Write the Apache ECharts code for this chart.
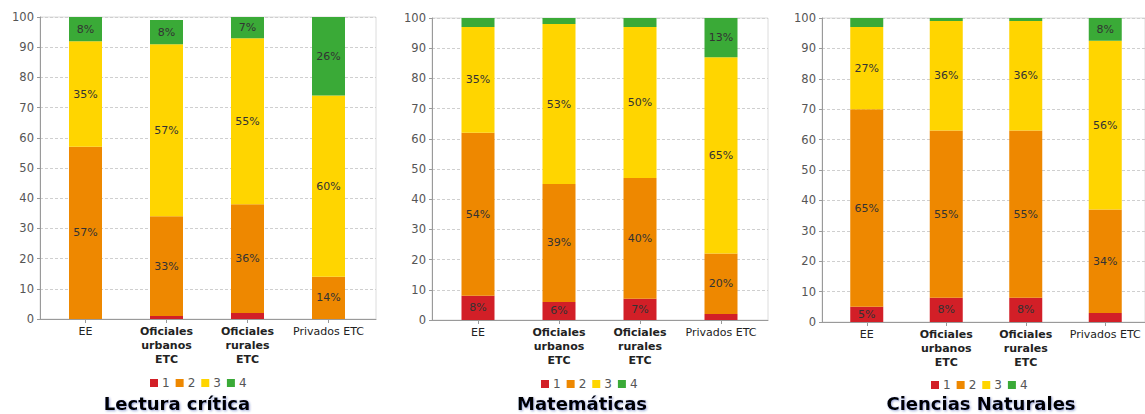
<!DOCTYPE html>
<html>
<head>
<meta charset="utf-8">
<script src="https://cdn.jsdelivr.net/npm/echarts@6/dist/echarts.min.js"></script>
<style>
html,body{margin:0;padding:0;background:#fff;}
#chart{width:1145px;height:414px;}
</style>
</head>
<body>
<div id="chart"></div>
<script>
// ---- data ----
const categories = ['EE', 'Oficiales\nurbanos\nETC', 'Oficiales\nrurales\nETC', 'Privados ETC'];
const levelNames = ['1', '2', '3', '4'];
const yTicks = [0, 10, 20, 30, 40, 50, 60, 70, 80, 90, 100];
const chartTitles = ['Lectura crítica', 'Matemáticas', 'Ciencias Naturales'];

const lectura1 = [0, 1, 2, 0];
const lectura2 = [57, 33, 36, 14];
const lectura3 = [35, 57, 55, 60];
const lectura4 = [8, 8, 7, 26];

const matematicas1 = [8, 6, 7, 2];
const matematicas2 = [54, 39, 40, 20];
const matematicas3 = [35, 53, 50, 65];
const matematicas4 = [3, 2, 3, 13];

const ciencias1 = [5, 8, 8, 3];
const ciencias2 = [65, 55, 55, 34];
const ciencias3 = [27, 36, 36, 55.5];
const ciencias4 = [3, 1, 1, 7.5];

// ---- styles ----
const levelColors = ['#d21f27', '#ee8800', '#ffd500', '#3aaa37'];
const panels = [
  { frame: [40, 17, 336, 302], data: [45, 17, 324, 302], legendX: 192, legendY: 372, titleX: 177, titleY: 403,
    levels: [lectura1, lectura2, lectura3, lectura4] },
  { frame: [432, 18, 336, 302], data: [437.5, 18, 324, 302], legendX: 583, legendY: 373, titleX: 582, titleY: 403,
    levels: [matematicas1, matematicas2, matematicas3, matematicas4] },
  { frame: [822, 18, 336, 304], data: [827, 18, 324, 304], legendX: 973, legendY: 374, titleX: 981, titleY: 403,
    levels: [ciencias1, ciencias2, ciencias3, ciencias4] }
];

const grid = [], xAxis = [], yAxis = [], series = [], legend = [], graphic = [];
panels.forEach((p, i) => {
  const gf = grid.length;
  grid.push({ left: p.frame[0], top: p.frame[1], width: p.frame[2], height: p.frame[3],
    show: true, borderColor: '#dcdcdc', borderWidth: 1, backgroundColor: 'transparent' });
  const gd = grid.length;
  grid.push({ left: p.data[0], top: p.data[1], width: p.data[2], height: p.data[3] });

  // frame axes
  xAxis.push({ gridIndex: gf, type: 'value', min: 0, max: 1,
    axisLine: { show: true, lineStyle: { color: '#9a9a9a' } },
    axisTick: { show: false }, axisLabel: { show: false }, splitLine: { show: false } });
  yAxis.push({ gridIndex: gf, type: 'value', min: yTicks[0], max: yTicks[yTicks.length - 1], interval: 10,
    axisLine: { show: true, lineStyle: { color: '#9a9a9a' } },
    axisTick: { show: true, length: 3, lineStyle: { color: '#9a9a9a' } },
    axisLabel: { color: '#555', fontSize: 11.5, fontFamily: 'DejaVu Sans', margin: 6 },
    splitLine: { show: true, lineStyle: { color: '#cfcfcf', type: [3, 2] } } });

  // data axes
  const xd = xAxis.length;
  xAxis.push({ gridIndex: gd, type: 'category', data: categories,
    axisLine: { show: false },
    axisTick: { show: true, alignWithLabel: true, length: 4, lineStyle: { color: '#9a9a9a' } },
    axisLabel: { interval: 0, margin: 5, color: '#222', fontSize: 11, fontFamily: 'DejaVu Sans', lineHeight: 14,
      formatter: v => v.indexOf('\n') >= 0 ? v.split('\n').map(s => '{b|' + s + '}').join('\n') : '{n|' + v + '}',
      rich: { b: { fontWeight: 'bold', fontSize: 11, fontFamily: 'DejaVu Sans', color: '#222', lineHeight: 14 },
              n: { fontSize: 11, fontFamily: 'DejaVu Sans', color: '#222', lineHeight: 14 } } } });
  const yd = yAxis.length;
  yAxis.push({ gridIndex: gd, type: 'value', min: 0, max: 100, show: false });

  p.levels.forEach((vals, k) => {
    series.push({
      name: levelNames[k], type: 'bar', stack: 'panel' + i, xAxisIndex: xd, yAxisIndex: yd,
      barWidth: 33, data: vals,
      itemStyle: { color: levelColors[k] },
      label: { show: true, position: 'inside', color: '#333', fontSize: 11, fontFamily: 'DejaVu Sans',
        formatter: prm => prm.value >= 5 ? Math.round(prm.value) + '%' : '' },
      emphasis: { disabled: true }
    });
  });

  legend.push({ data: levelNames, left: p.legendX - 47, top: p.legendY, orient: 'horizontal',
    icon: 'rect', itemWidth: 8, itemHeight: 8, itemGap: 6,
    textStyle: { color: '#555', fontSize: 12, fontFamily: 'DejaVu Sans', padding: [0, 0, 0, -1] } });

  graphic.push({ type: 'text', x: p.titleX, y: p.titleY,
    style: { text: chartTitles[i], textAlign: 'center', textVerticalAlign: 'middle',
      fontSize: 18, fontWeight: 900, fontFamily: 'DejaVu Sans', fill: '#000',
      textShadowColor: 'rgba(40,60,160,0.45)', textShadowBlur: 2, textShadowOffsetX: 1, textShadowOffsetY: 1 } });
});

const chart = echarts.init(document.getElementById('chart'), null, { renderer: 'svg' });
chart.setOption({
  animation: false,
  grid, xAxis, yAxis, series, legend, graphic
});
</script>
</body>
</html>
